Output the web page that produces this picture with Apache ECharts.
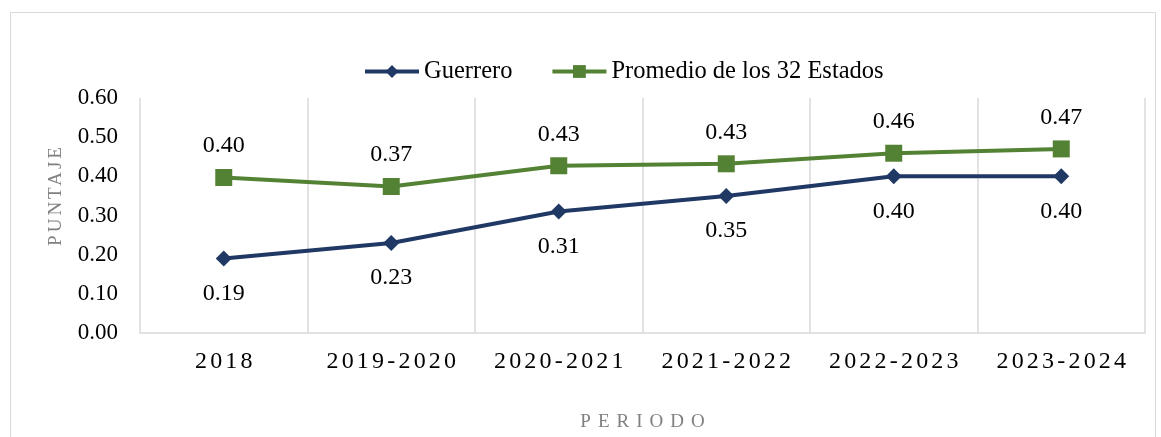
<!DOCTYPE html>
<html>
<head>
<meta charset="utf-8">
<script src="https://cdn.jsdelivr.net/npm/echarts@6/dist/echarts.min.js"></script>
<style>
html,body{margin:0;padding:0;background:#fff;}
#chart{width:1161px;height:437px;}
</style>
</head>
<body>
<div id="chart"></div>
<script>
const categories = ['2018', '2019-2020', '2020-2021', '2021-2022', '2022-2023', '2023-2024'];
const guerrero = [0.19, 0.23, 0.31, 0.35, 0.40, 0.40];
const promedio = [0.397, 0.374, 0.427, 0.432, 0.459, 0.470];
const yTicks = [0, 0.1, 0.2, 0.3, 0.4, 0.5, 0.6];
const seriesNames = ['Guerrero', 'Promedio de los 32 Estados'];
const xTitle = 'PERIODO';
const yTitle = 'PUNTAJE';

// letter spacing for spaced (Excel-style) texts only
const spacing = {};
categories.forEach(c => spacing[c] = 3.2);
spacing[xTitle] = 7;
spacing[yTitle] = 3;
const origFill = CanvasRenderingContext2D.prototype.fillText;
CanvasRenderingContext2D.prototype.fillText = function (t, x, y, m) {
  const s = spacing[t];
  const has = 'letterSpacing' in this;
  if (s !== undefined && has) {
    this.letterSpacing = s + 'px';
    const dx = this.textAlign === 'center' ? s / 2 : 0;
    if (m === undefined) origFill.call(this, t, x + dx, y); else origFill.call(this, t, x + dx, y, m);
    this.letterSpacing = '0px';
  } else {
    if (has) this.letterSpacing = '0px';
    if (m === undefined) origFill.call(this, t, x, y); else origFill.call(this, t, x, y, m);
  }
};

const FONT = '"Liberation Serif", "Times New Roman", serif';
const chart = echarts.init(document.getElementById('chart'));
chart.setOption({
  animation: false,
  textStyle: { fontFamily: FONT },
  graphic: [{
    type: 'rect', left: 8, top: 10, silent: true,
    shape: { width: 1145, height: 440 },
    style: { fill: 'none', stroke: '#d9d9d9', lineWidth: 1 }
  }],
  legend: {
    top: 54, left: 358,
    itemWidth: 54, itemHeight: 16, itemGap: 38,
    lineStyle: { width: 4 },
    textStyle: { fontFamily: FONT, fontSize: 24.5, color: '#000' },
    data: seriesNames
  },
  grid: { left: 140, right: 16, top: 98, bottom: 102, containLabel: false },
  xAxis: {
    type: 'category', data: categories, boundaryGap: true,
    name: xTitle, nameLocation: 'middle', nameGap: 80,
    nameTextStyle: { fontFamily: FONT, fontSize: 19, color: '#808080' },
    axisLine: { show: true, lineStyle: { color: '#d9d9d9', width: 1.5 } },
    axisTick: { show: false },
    axisLabel: { fontFamily: FONT, fontSize: 24, color: '#000', margin: 17 },
    splitLine: { show: true, lineStyle: { color: '#d9d9d9', width: 1.5 } }
  },
  yAxis: {
    type: 'value', min: 0, max: 0.6, interval: 0.1,
    name: yTitle, nameLocation: 'middle', nameRotate: 90, nameGap: 74,
    nameTextStyle: { fontFamily: FONT, fontSize: 19, color: '#808080', padding: [0, 0, 0, 38] },
    axisLine: { show: false }, axisTick: { show: false },
    splitLine: { show: false },
    axisLabel: { fontFamily: FONT, fontSize: 23, color: '#000', margin: 22,
      formatter: v => v.toFixed(2) }
  },
  series: [{
    name: seriesNames[0], type: 'line', data: guerrero,
    symbol: 'diamond', symbolSize: 16,
    lineStyle: { color: '#1f3864', width: 4 },
    itemStyle: { color: '#1f3864' },
    label: { show: true, position: 'bottom', distance: 15, fontFamily: FONT, fontSize: 24, color: '#000',
      formatter: p => p.value.toFixed(2) }
  }, {
    name: seriesNames[1], type: 'line', data: promedio,
    symbol: 'rect', symbolSize: 17,
    lineStyle: { color: '#548235', width: 4 },
    itemStyle: { color: '#548235' },
    label: { show: true, position: 'top', distance: 11, fontFamily: FONT, fontSize: 24, color: '#000',
      formatter: p => p.value.toFixed(2) }
  }]
});
</script>
</body>
</html>
